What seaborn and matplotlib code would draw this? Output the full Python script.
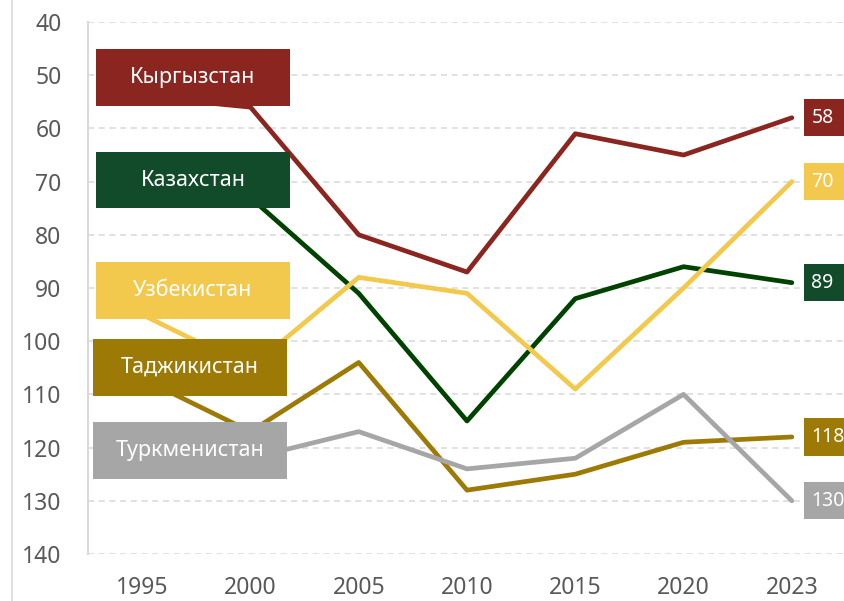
import pandas as pd
import matplotlib
matplotlib.use('Agg')
import matplotlib.pyplot as plt
from matplotlib.patches import Rectangle
from matplotlib.lines import Line2D
import seaborn as sns

# данные: место в рейтинге по годам
years = ['1995', '2000', '2005', '2010', '2015', '2020', '2023']
countries = ['Кыргызстан', 'Казахстан', 'Узбекистан', 'Таджикистан', 'Туркменистан']
kyrgyzstan = [54, 56, 80, 87, 61, 65, 58]
kazakhstan = [70, 73, 91, 115, 92, 86, 89]
uzbekistan = [95, 105, 88, 91, 109, 90, 70]
tajikistan = [107, 117, 104, 128, 125, 119, 118]
turkmenistan = [120, 122, 117, 124, 122, 110, 130]
series = [kyrgyzstan, kazakhstan, uzbekistan, tajikistan, turkmenistan]

line_colors = ['#8B2520', '#004200', '#F2C94C', '#9C7A05', '#A6A6A6']
box_colors = ['#8B2520', '#114B2A', '#F2C94C', '#9C7A05', '#A6A6A6']
# центры подписей слева (в координатах данных)
box_centers = [(0.47, 50.5), (0.47, 69.7), (0.47, 90.5), (0.44, 104.9), (0.44, 120.6)]

rows = []
for name, vals in zip(countries, series):
    for i, v in enumerate(vals):
        rows.append({'pos': i, 'year': years[i], 'country': name, 'rank': v})
df = pd.DataFrame(rows)

sns.set_style("white")
plt.rcParams['font.family'] = ['Noto Sans', 'DejaVu Sans']

fig = plt.figure(figsize=(8.45, 6.01), dpi=100)
ax = fig.add_axes([88 / 845, 1 - 554 / 601, 758 / 845, 532 / 601])

sns.lineplot(data=df, x='pos', y='rank', hue='country', hue_order=countries,
             palette=dict(zip(countries, line_colors)), linewidth=3.4,
             legend=False, ax=ax, solid_capstyle='round', zorder=3)

ax.set_xlim(-0.5, 6.5)
ax.set_ylim(140, 40)
ax.set_yticks(range(40, 141, 10))
ax.set_xticks(range(len(years)))
ax.set_xticklabels(years)
ax.set_xlabel('')
ax.set_ylabel('')
ax.tick_params(axis='both', length=0, labelsize=16.5, labelcolor='#595959')
ax.tick_params(axis='y', pad=19)
ax.tick_params(axis='x', pad=16)
ax.grid(True, axis='y', color='#D9D9D9', linestyle=(0, (4, 3)), linewidth=1.1)
ax.set_axisbelow(True)
for s in ['top', 'right', 'bottom']:
    ax.spines[s].set_visible(False)
ax.spines['left'].set_color('#D9D9D9')
ax.spines['left'].set_linewidth(1.5)

# подписи стран слева
bw, bh = 1.79, 10.7
for name, (cx, cy), c in zip(countries, box_centers, box_colors):
    ax.add_patch(Rectangle((cx - bw / 2, cy - bh / 2), bw, bh, facecolor=c,
                           edgecolor='none', zorder=5, clip_on=False))
    ax.text(cx, cy, name, ha='center', va='center', color='white',
            fontsize=15.5, zorder=6)

# значения 2023 справа
for vals, c in zip(series, box_colors):
    v = vals[-1]
    ax.add_patch(Rectangle((6.11, v - 3.5), 0.5, 7, facecolor=c,
                           edgecolor='none', zorder=5, clip_on=False))
    ax.text(6.18, v, str(v), ha='left', va='center', color='white',
            fontsize=14, zorder=6, clip_on=False)

fig.add_artist(Line2D([12 / 845, 12 / 845], [0, 1], color='#D9D9D9', linewidth=1.2))

plt.savefig('out.png', dpi=100)
plt.close()
